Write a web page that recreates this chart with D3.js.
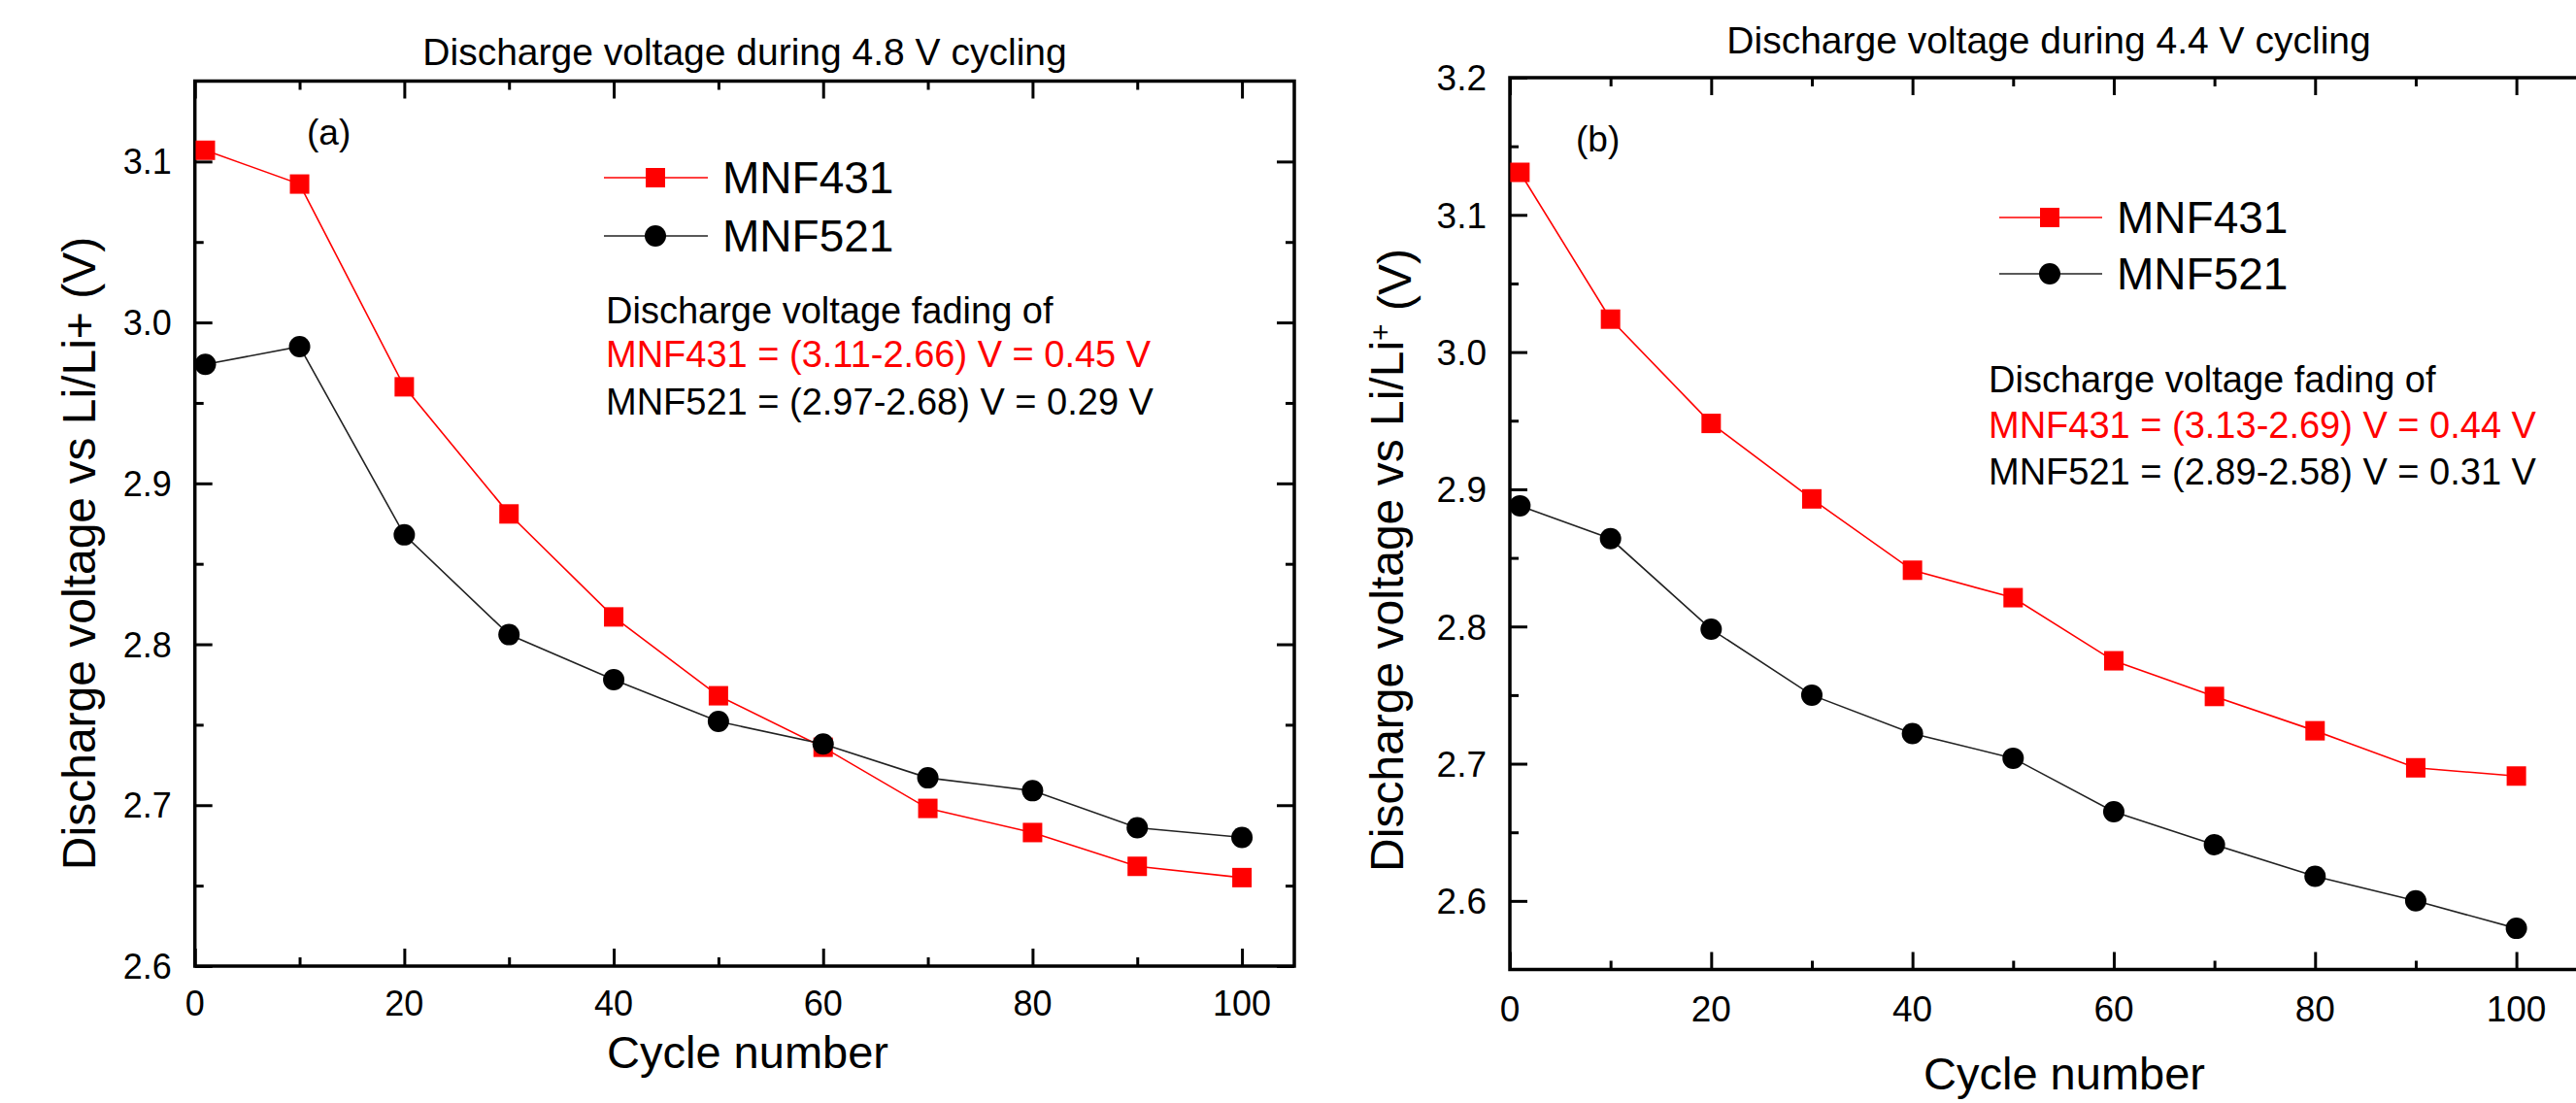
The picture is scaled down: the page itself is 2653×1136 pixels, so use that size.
<!DOCTYPE html>
<html>
<head>
<meta charset="utf-8">
<script src="https://cdn.jsdelivr.net/npm/d3@7/dist/d3.min.js"></script>
<style>
  html, body { margin: 0; padding: 0; background: #fff; }
  svg { display: block; }
  text { font-family: "Liberation Sans", Arial, sans-serif; fill: #000; }
</style>
</head>
<body>
<script>
// ---------- data ----------
const cycles = [1, 10, 20, 30, 40, 50, 60, 70, 80, 90, 100];
const a_MNF431 = [3.107, 3.086, 2.960, 2.881, 2.817, 2.768, 2.736, 2.698, 2.683, 2.662, 2.655];
const a_MNF521 = [2.974, 2.985, 2.868, 2.806, 2.778, 2.752, 2.738, 2.717, 2.709, 2.686, 2.680];
const b_MNF431 = [3.131, 3.024, 2.948, 2.893, 2.841, 2.821, 2.775, 2.749, 2.724, 2.697, 2.691];
const b_MNF521 = [2.888, 2.864, 2.798, 2.750, 2.722, 2.704, 2.665, 2.641, 2.618, 2.600, 2.580];
const seriesNames = ["MNF431", "MNF521"];
const xTicksMajor = [0, 20, 40, 60, 80, 100];
const xTicksMinor = [10, 30, 50, 70, 90];
const aYTicksMajor = [2.6, 2.7, 2.8, 2.9, 3.0, 3.1];
const aYTicksMinor = [2.65, 2.75, 2.85, 2.95, 3.05];
const bYTicksMajor = [2.6, 2.7, 2.8, 2.9, 3.0, 3.1, 3.2];
const bYTicksMinor = [2.65, 2.75, 2.85, 2.95, 3.05, 3.15];
const titles = ["Discharge voltage during 4.8 V cycling", "Discharge voltage during 4.4 V cycling"];
const panelLabels = ["(a)", "(b)"];
const fadeA = ["Discharge voltage fading of", "MNF431 = (3.11-2.66) V = 0.45 V", "MNF521 = (2.97-2.68) V = 0.29 V"];
const fadeB = ["Discharge voltage fading of", "MNF431 = (3.13-2.69) V = 0.44 V", "MNF521 = (2.89-2.58) V = 0.31 V"];

const W = 2653, H = 1136;
const RED = "#ff0000", BLACK = "#000000";

const svg = d3.select("body").append("svg").attr("width", W).attr("height", H);

function panel(cfg) {
  const x = d3.scaleLinear().domain(cfg.xDomain).range([cfg.left, cfg.right]);
  const y = d3.scaleLinear().domain(cfg.yDomain).range([cfg.bottom, cfg.top]);
  const g = svg.append("g");
  const fmtY = d3.format(".1f");

  // axes with inward ticks
  const mk = (axisFn, scale, ticks, size) => axisFn(scale).tickValues(ticks).tickSize(size).tickFormat("");
  const major = 18, minor = 9;
  const gb = g.append("g").attr("transform", `translate(0,${cfg.bottom})`);
  gb.append("g").call(mk(d3.axisBottom, x, xTicksMajor, -major));
  gb.append("g").call(mk(d3.axisBottom, x, xTicksMinor, -minor));
  const gt = g.append("g").attr("transform", `translate(0,${cfg.top})`);
  gt.append("g").call(mk(d3.axisTop, x, xTicksMajor.filter(v => x(v) <= W), -major));
  gt.append("g").call(mk(d3.axisTop, x, xTicksMinor, -minor));
  const gl = g.append("g").attr("transform", `translate(${cfg.left},0)`);
  gl.append("g").call(mk(d3.axisLeft, y, cfg.yMajor, -major));
  gl.append("g").call(mk(d3.axisLeft, y, cfg.yMinor, -minor));
  if (cfg.rightAxis) {
    const gr = g.append("g").attr("transform", `translate(${cfg.right},0)`);
    gr.append("g").call(mk(d3.axisRight, y, cfg.yMajor, -major));
    gr.append("g").call(mk(d3.axisRight, y, cfg.yMinor, -minor));
  }
  g.selectAll(".domain").remove();
  g.selectAll(".tick line").attr("stroke", "#000").attr("stroke-width", 3);

  // frame
  g.append("path")
    .attr("d", cfg.rightAxis
      ? `M${cfg.left},${cfg.top}H${cfg.right}V${cfg.bottom}H${cfg.left}Z`
      : `M${W + 10},${cfg.top}H${cfg.left}V${cfg.bottom}H${W + 10}`)
    .attr("fill", "none").attr("stroke", "#000").attr("stroke-width", 3.5);

  // tick labels
  g.selectAll(".xl").data(xTicksMajor).enter().append("text")
    .attr("x", d => x(d)).attr("y", cfg.bottom + cfg.xLabelDy)
    .attr("text-anchor", "middle").style("font-size", cfg.tickFont + "px")
    .text(d => d);
  g.selectAll(".yl").data(cfg.yMajor).enter().append("text")
    .attr("x", cfg.left - 24).attr("y", d => y(d) + cfg.tickFont * 0.36)
    .attr("text-anchor", "end").style("font-size", cfg.tickFont + "px")
    .text(d => fmtY(d));

  // series
  const line = d3.line().x((d, i) => x(cycles[i])).y(d => y(d));
  g.append("path").datum(cfg.s431).attr("d", line)
    .attr("fill", "none").attr("stroke", RED).attr("stroke-width", 1.6);
  g.append("path").datum(cfg.s521).attr("d", line)
    .attr("fill", "none").attr("stroke", "#222").attr("stroke-width", 1.6);
  g.selectAll(".sq").data(cfg.s431).enter().append("rect")
    .attr("x", (d, i) => x(cycles[i]) - 10).attr("y", d => y(d) - 10)
    .attr("width", 20).attr("height", 20).attr("fill", RED);
  g.selectAll(".ci").data(cfg.s521).enter().append("circle")
    .attr("cx", (d, i) => x(cycles[i])).attr("cy", d => y(d)).attr("r", 11)
    .attr("fill", BLACK);

  // legend
  const lg = cfg.legend;
  seriesNames.forEach((name, i) => {
    const yy = lg.y[i];
    g.append("line").attr("x1", lg.x1).attr("x2", lg.x2).attr("y1", yy).attr("y2", yy)
      .attr("stroke", i === 0 ? RED : "#222").attr("stroke-width", 1.6);
    if (i === 0) {
      g.append("rect").attr("x", lg.xm - 10).attr("y", yy - 10).attr("width", 20).attr("height", 20).attr("fill", RED);
    } else {
      g.append("circle").attr("cx", lg.xm).attr("cy", yy).attr("r", 11).attr("fill", BLACK);
    }
    g.append("text").attr("x", lg.xt).attr("y", yy + 16).style("font-size", "46px").text(name);
  });

  // annotation
  cfg.fade.forEach((t, i) => {
    g.append("text").attr("x", cfg.fadeX).attr("y", cfg.fadeY[i])
      .style("font-size", "38px").style("fill", i === 1 ? RED : "#000").text(t);
  });

  // panel label
  g.append("text").attr("x", cfg.labelX).attr("y", cfg.labelY).style("font-size", "37px").text(cfg.label);

  // title
  g.append("text").attr("x", cfg.titleX).attr("y", cfg.titleY).attr("text-anchor", "middle")
    .style("font-size", "39px").text(cfg.title);

  // x axis title
  g.append("text").attr("x", cfg.xTitleX).attr("y", cfg.xTitleY).attr("text-anchor", "middle")
    .style("font-size", "47px").text("Cycle number");

  // y axis title
  const yt = g.append("text").attr("transform", `translate(${cfg.yTitleX},${cfg.yTitleY}) rotate(-90)`)
    .attr("text-anchor", "middle").attr("dy", "0.36em").style("font-size", "48px");
  if (cfg.superPlus) {
    yt.append("tspan").text("Discharge voltage vs Li/Li");
    yt.append("tspan").attr("dy", "-0.45em").style("font-size", "30px").text("+");
    yt.append("tspan").attr("dy", "0.45em").text(" (V)");
  } else {
    yt.text("Discharge voltage vs Li/Li+ (V)");
  }
}

panel({
  xDomain: [0, 105], yDomain: [2.6, 3.15],
  left: 200.7, right: 1333, top: 83.5, bottom: 995,
  yMajor: aYTicksMajor, yMinor: aYTicksMinor, rightAxis: true,
  xLabelDy: 51, tickFont: 36,
  s431: a_MNF431, s521: a_MNF521,
  legend: { x1: 622, x2: 729, xm: 675, xt: 744, y: [183, 243] },
  fade: fadeA, fadeX: 624, fadeY: [333, 378, 427],
  label: panelLabels[0], labelX: 316, labelY: 149,
  title: titles[0], titleX: 767, titleY: 67,
  xTitleX: 770, xTitleY: 1100,
  yTitleX: 81, yTitleY: 570, superPlus: false
});

panel({
  xDomain: [0, 107], yDomain: [2.55, 3.2],
  left: 1555, right: 1555 + 107 * 10.366, top: 80, bottom: 998.5,
  yMajor: bYTicksMajor, yMinor: bYTicksMinor, rightAxis: false,
  xLabelDy: 53, tickFont: 37,
  s431: b_MNF431, s521: b_MNF521,
  legend: { x1: 2059, x2: 2165, xm: 2111, xt: 2180, y: [224, 282] },
  fade: fadeB, fadeX: 2048, fadeY: [404, 451, 499],
  label: panelLabels[1], labelX: 1623, labelY: 156,
  title: titles[1], titleX: 2110, titleY: 55,
  xTitleX: 2126, xTitleY: 1122,
  yTitleX: 1428, yTitleY: 577, superPlus: true
});
</script>
</body>
</html>
